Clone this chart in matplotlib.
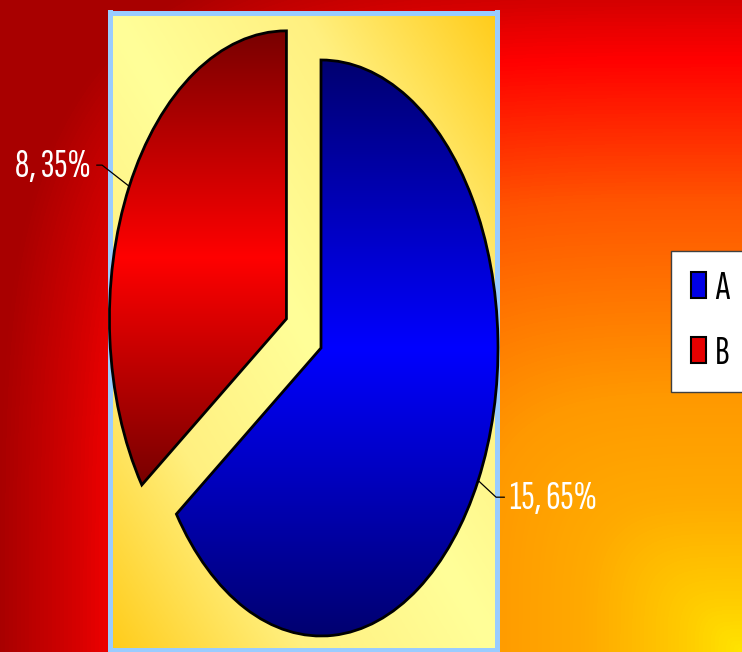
import numpy as np
import matplotlib.pyplot as plt
from matplotlib.colors import LinearSegmentedColormap
from matplotlib.patches import Patch

categories = ['A', 'B']
values = [15, 8]
explode = [0, 0.22]

# label placement (data coords of the pie axes, baseline) and leader angles
label_pos = [(1.068, -0.559), (-1.299, 0.594)]
label_ha = ['left', 'right']
leader_angle = [-43, 142]

W, H = 742, 652
FONT = ['Sofia Sans Extra Condensed', 'DejaVu Sans']
FS = 29
fig = plt.figure(figsize=(W / 100, H / 100), dpi=100)

# background: fire gradient running out of the bottom-right corner
bg = fig.add_axes([0, 0, 1, 1])
X, Y = np.meshgrid(np.arange(W) + 0.5, np.arange(H) + 0.5)
dx = (W - X) / 669
dy = (H - Y) / 652
t = (dx ** 4 + dy ** 4) ** 0.25
stops = [(0.0, '#FFE400'), (0.08, '#FFCC00'), (0.23, '#FFAA00'), (0.39, '#FF9900'),
         (0.54, '#FF7700'), (0.69, '#FF5500'), (0.80, '#FF2A00'), (0.91, '#FF0000'),
         (0.96, '#E80000'), (1.0, '#D40000'), (1.04, '#C40000'), (1.11, '#A80000'),
         (1.5, '#A80000')]
fire = LinearSegmentedColormap.from_list('fire', [(s / 1.5, c) for s, c in stops])
bg.imshow(t, cmap=fire, vmin=0, vmax=1.5, aspect='auto', interpolation='bilinear')
bg.set_axis_off()

# plot area: pale yellow / gold diagonal gradient with light blue border
pa = fig.add_axes([109.5 / W, 2.5 / H, (496.5 - 109.5) / W, (649.5 - 12.5) / H])
XN, YN = np.meshgrid(np.linspace(0, 1, 200), np.linspace(0, 1, 330))
cream = LinearSegmentedColormap.from_list('cream', ['#FFFF99', '#FFF080', '#FFCC1A'])
pa.imshow(np.abs(XN - YN), cmap=cream, vmin=0, vmax=1, aspect='auto', interpolation='bilinear')
pa.set_xticks([])
pa.set_yticks([])
for sp in pa.spines.values():
    sp.set_color('#99CCFF')
    sp.set_linewidth(3.6)

# pie, squeezed into a tall ellipse by the axes limits
ax = fig.add_axes([0, 0, 1, 1])
ax.set_facecolor('none')
wedges, _ = ax.pie(values, explode=explode, startangle=90, counterclock=False,
                   wedgeprops=dict(edgecolor='black', linewidth=2))

shades = [['#000070', '#0000FF', '#000070'], ['#780000', '#FF0000', '#780000']]
for w, sh in zip(wedges, shades):
    bb = w.get_path().get_extents()
    cm = LinearSegmentedColormap.from_list('', sh)
    im = ax.imshow(np.linspace(0, 1, 256).reshape(-1, 1), cmap=cm,
                   extent=[bb.x0, bb.x1, bb.y0, bb.y1], aspect='auto', zorder=1)
    im.set_clip_path(w)
    w.set_facecolor('none')
    w.set_zorder(2)

total = sum(values)
for w, v, pos, ha, ang in zip(wedges, values, label_pos, label_ha, leader_angle):
    mid = np.deg2rad((w.theta1 + w.theta2) / 2)
    xy = (w.center[0] + w.r * np.cos(mid), w.center[1] + w.r * np.sin(mid))
    ax.annotate(f'{v}, {round(100 * v / total)}%', xy=xy, xytext=pos,
                ha=ha, va='baseline', color='white', fontsize=FS, family=FONT,
                arrowprops=dict(arrowstyle='-', color='black', lw=0.9,
                                shrinkA=2, shrinkB=0,
                                relpos=(0 if ha == 'left' else 1, 0.55),
                                connectionstyle=f'angle,angleA=0,angleB={ang},rad=0'),
                zorder=4)

ax.set_aspect('auto')
ax.set_xlim(-321 / 177, (W - 321) / 177)
ax.set_ylim(-(H - 348) / 288, 348 / 288)
ax.axis('off')

handles = [Patch(facecolor=c, edgecolor='black', linewidth=1.5) for c in ['#0000E6', '#E60000']]
leg = fig.legend(handles, categories, loc='upper left', bbox_to_anchor=(671 / W, 1 - 251 / H),
                 borderaxespad=0, fancybox=False, edgecolor='#404040', framealpha=1,
                 prop=dict(family=FONT, size=FS), handlelength=0.37, handleheight=0.62,
                 handletextpad=0.22, labelspacing=0.72, borderpad=0.5)
leg.get_frame().set_linewidth(1)

fig.savefig('out.png', dpi=100)
